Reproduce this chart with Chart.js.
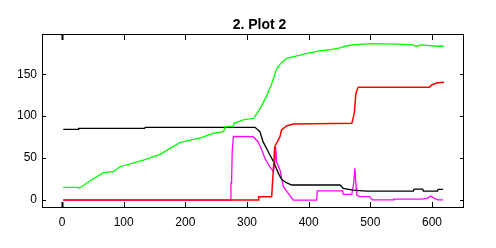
<!DOCTYPE html>
<html>
<head>
<meta charset="utf-8">
<script src="https://cdn.jsdelivr.net/npm/chart.js@4/dist/chart.umd.min.js"></script>
<style>
  html, body { margin: 0; padding: 0; background: #fff; }
  #plot2 { display: block; }
</style>
</head>
<body>
<canvas id="plot2" width="496" height="248"></canvas>
<script>
// values
const titre = '2. Plot 2';
const xTicks = [0, 100, 200, 300, 400, 500, 600];
const yTicks = [0, 50, 100, 150];

const greenX = [2, 26, 28, 45, 67, 83, 94, 132, 159, 191, 226, 245, 262, 265, 278, 279, 294, 311, 321, 332, 340, 348, 354, 364, 383, 397, 418, 435, 451, 459, 472, 502, 543, 570, 574, 583, 609, 619];
const greenY = [15.2, 15.2, 14, 22.7, 32.6, 33.8, 39.7, 47.7, 54.5, 68.4, 74.4, 79.6, 81.5, 87.5, 88, 91.5, 95.5, 97.5, 108.6, 124.5, 138.4, 156.3, 162.3, 169, 172.2, 175, 178, 179.4, 181.4, 183.4, 185, 186.6, 186, 185, 183.4, 185, 183.4, 183.4];

const blackX = [2, 26, 27, 134, 135, 313, 321, 326, 334.5, 343, 351, 356, 364, 372.5, 451, 456, 472, 494, 570, 571, 585, 586, 609, 610, 618];
const blackY = [84.3, 84.3, 85.5, 85.5, 86.7, 86.7, 81.5, 69.6, 57.6, 45.7, 31.8, 24.7, 20.7, 17.9, 17.9, 14, 11.9, 10.7, 10.7, 13.1, 13.1, 10.7, 10.7, 12.7, 12.7];

const magentaX = [2, 273, 274, 275, 276, 277, 278, 310, 318, 324, 329, 337, 343, 345, 346.5, 348, 353.5, 359, 367, 375, 413, 414, 455, 456, 470, 473, 475, 477, 478, 483, 499, 503, 537, 538, 583, 592, 598, 604, 610, 618];
const magentaY = [0, 0, 20, 20, 57.6, 57.6, 76, 75.5, 69.6, 59.7, 49.8, 39.7, 33.8, 45, 63.6, 45, 35.8, 15.9, 8, 0, 0, 11, 11, 6.8, 6.8, 20, 37.8, 15, 6, 4, 4, 0.3, 0.3, 1.2, 1.2, 2, 4.8, 2, 0.3, 0.3];

const redX = [2, 318, 319, 340, 343, 345, 353.5, 356, 364, 375, 470, 474, 476.5, 479, 480.5, 596, 599.5, 607.5, 619.5];
const redY = [0, 0, 4, 4, 39.7, 63.6, 75.5, 83.5, 88.3, 90.7, 91.5, 103.5, 126.5, 132.5, 134.5, 134.5, 137.2, 139.6, 140.4];

const pts = (xs, ys) => xs.map((x, i) => ({ x: x, y: ys[i] }));

// cadre + petites graduations vers l'interieur
const cadre = {
  id: 'cadre',
  afterDraw(chart) {
    const { ctx, chartArea: a, scales } = chart;
    ctx.save();
    ctx.strokeStyle = '#000';
    ctx.lineWidth = 1;
    ctx.strokeRect(a.left + 0.5, a.top + 0.5, a.right - a.left - 1, a.bottom - a.top - 1);
    scales.x.ticks.forEach(t => {
      const p = Math.round(scales.x.getPixelForValue(t.value)) + 0.5;
      ctx.lineWidth = t.value === 0 ? 2 : 1;
      ctx.beginPath();
      ctx.moveTo(p, a.bottom); ctx.lineTo(p, a.bottom - 6);
      ctx.moveTo(p, a.top); ctx.lineTo(p, a.top + 6);
      ctx.stroke();
    });
    ctx.lineWidth = 1;
    scales.y.ticks.forEach(t => {
      const p = Math.round(scales.y.getPixelForValue(t.value)) + 0.5;
      ctx.beginPath();
      ctx.moveTo(a.left, p); ctx.lineTo(a.left + 4, p);
      ctx.moveTo(a.right, p); ctx.lineTo(a.right - 4, p);
      ctx.stroke();
    });
    // titre
    ctx.fillStyle = '#000';
    ctx.font = 'bold 14px "Liberation Sans", Arial, sans-serif';
    ctx.textAlign = 'center';
    ctx.textBaseline = 'middle';
    ctx.fillText(titre, 259.5, 25);
    ctx.restore();
  }
};

Chart.defaults.font.family = '"Liberation Sans", Arial, sans-serif';
Chart.defaults.font.size = 12;
Chart.defaults.color = '#000';

const ctx = document.getElementById('plot2');
new Chart(ctx, {
  type: 'line',
  data: {
    datasets: [
      { label: 'red', data: pts(redX, redY), borderColor: '#ff0000', borderWidth: 1.5 },
      { label: 'green', data: pts(greenX, greenY), borderColor: '#00ff00', borderWidth: 1.3 },
      { label: 'black', data: pts(blackX, blackY), borderColor: '#000000', borderWidth: 1.3 },
      { label: 'magenta', data: pts(magentaX, magentaY), borderColor: '#ff00ff', borderWidth: 1.3 }
    ]
  },
  options: {
    responsive: false,
    animation: false,
    pointRadius: 0,
    tension: 0,
    layout: { padding: { top: 34, right: 32, left: 0, bottom: 0 } },
    plugins: {
      legend: { display: false },
      title: { display: false },
      tooltip: { enabled: false }
    },
    scales: {
      x: {
        type: 'linear',
        min: -32.4,
        max: 651.9,
        grid: { display: false, drawTicks: false },
        border: { display: false },
        ticks: { stepSize: 100, includeBounds: false, autoSkip: false, padding: 7, maxRotation: 0 },
        afterFit: s => { s.height = 40; }
      },
      y: {
        min: -9.5,
        max: 198,
        grid: { display: false, drawTicks: false },
        border: { display: false },
        ticks: { stepSize: 50, includeBounds: false, padding: 5 },
        afterFit: s => { s.width = 42; }
      }
    }
  },
  plugins: [cadre]
});
</script>
</body>
</html>
